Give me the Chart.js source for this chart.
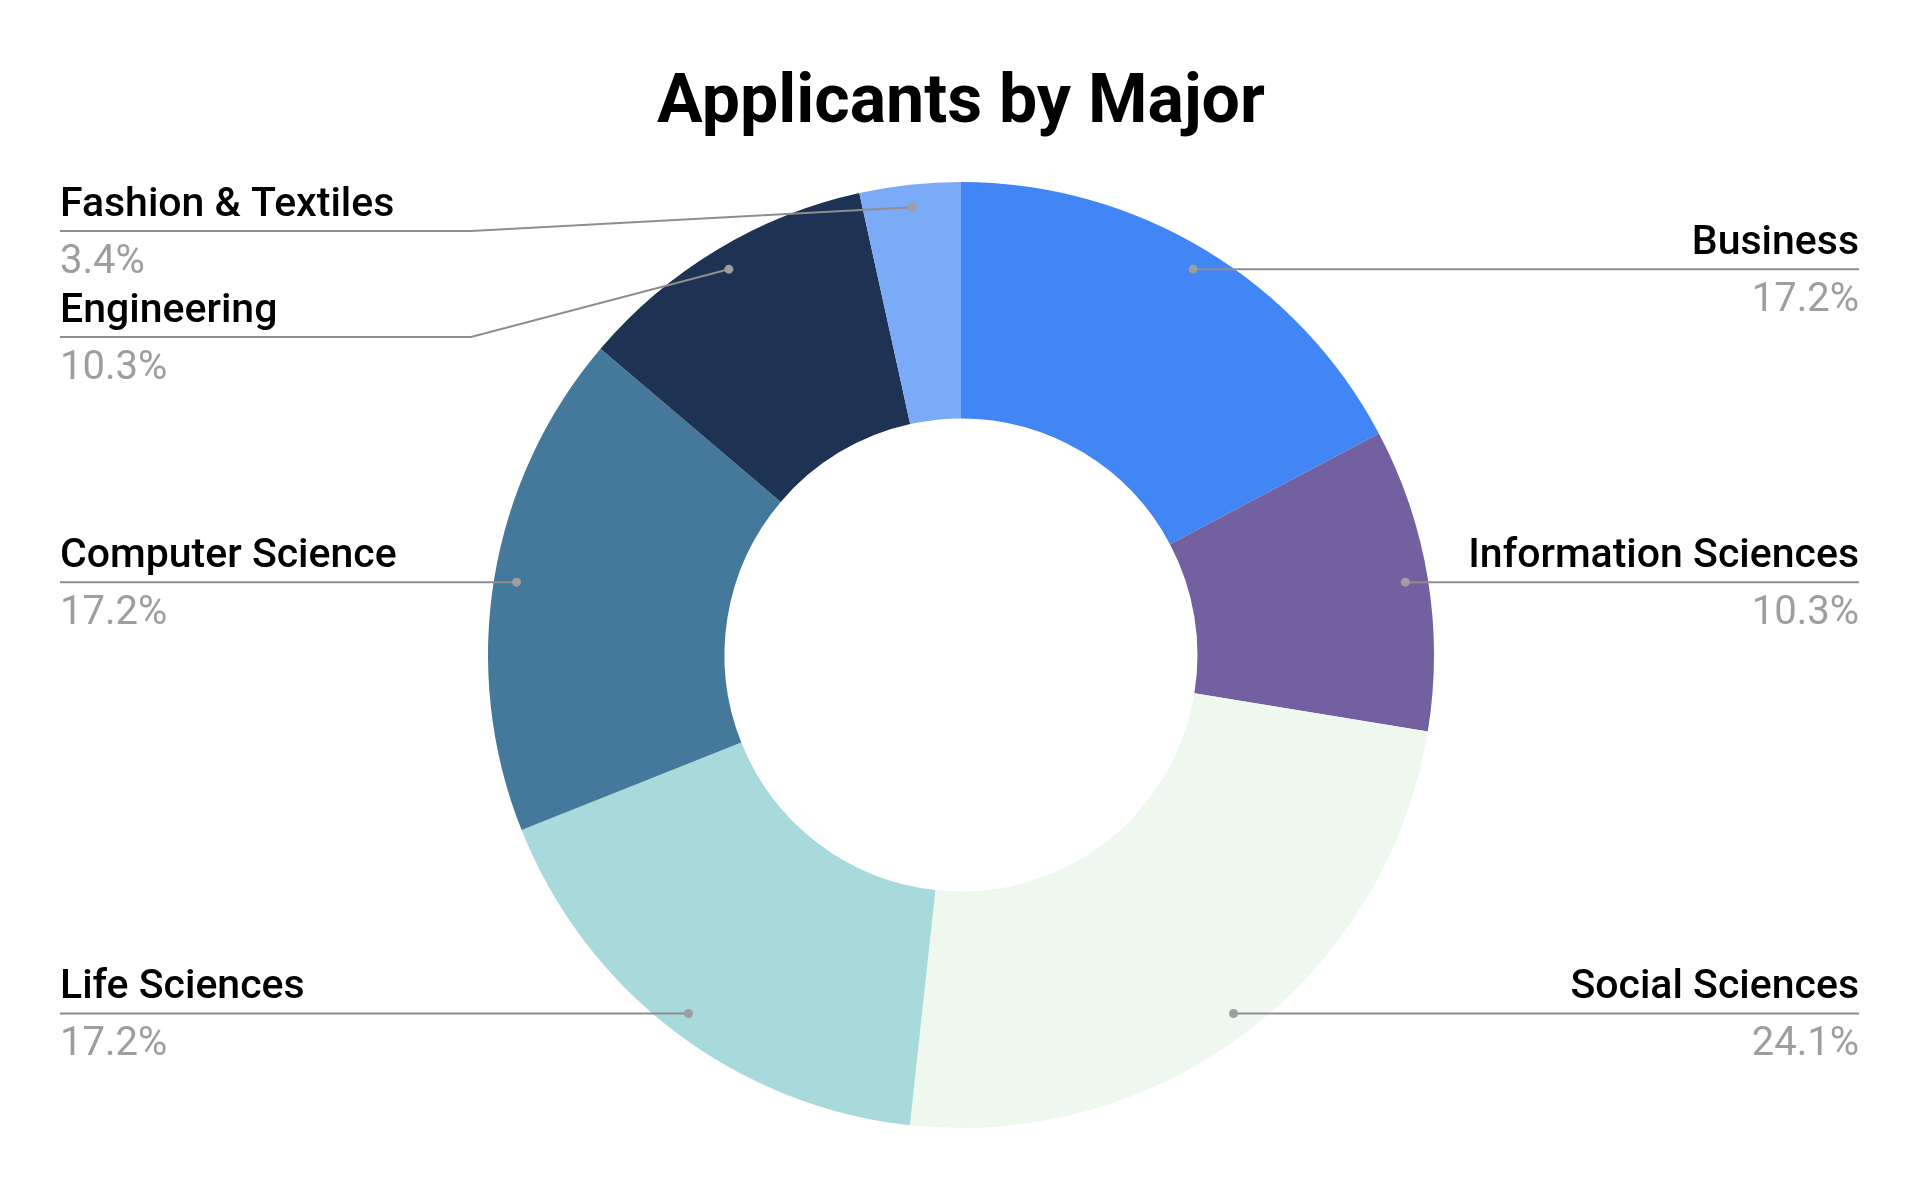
<!DOCTYPE html>
<html>
<head>
<meta charset="utf-8">
<script src="https://cdn.jsdelivr.net/npm/chart.js@4"></script>
<style>
  html, body { margin: 0; padding: 0; background: #ffffff; }
  #wrap { width: 1920px; height: 1190px; position: relative; }
</style>
</head>
<body>
<div id="wrap"><canvas id="c" width="1920" height="1190"></canvas></div>
<script>
const titleText = 'Applicants by Major';
const categories = ['Business', 'Information Sciences', 'Social Sciences', 'Life Sciences', 'Computer Science', 'Engineering', 'Fashion & Textiles'];
const applicants = [5, 3, 7, 5, 5, 3, 1];
const sliceColors = ['#4285f4', '#7360a1', '#eff8ee', '#a8d9db', '#45799b', '#1e3353', '#7baaf7'];

const total = applicants.reduce((a, b) => a + b, 0);
const percentLabels = applicants.map(v => (v / total * 100).toFixed(1) + '%');

const FONT = 'Roboto, "Noto Sans", sans-serif';
const NAME_SIZE = 41;
const PCT_SIZE = 40;

const leaderLabels = {
  id: 'leaderLabels',
  afterDatasetsDraw(chart) {
    const ctx = chart.ctx;
    const meta = chart.getDatasetMeta(0);
    const W = chart.width;
    const leftX = 60, rightX = W - 61;
    const items = [];
    meta.data.forEach((arc, i) => {
      const p = arc.getProps(['x', 'y', 'startAngle', 'endAngle', 'outerRadius', 'innerRadius'], true);
      const mid = (p.startAngle + p.endAngle) / 2;
      const r = p.outerRadius * 0.952;
      const dx = p.x + Math.cos(mid) * r;
      const dy = p.y + Math.sin(mid) * r;
      items.push({ i, dx, dy, cx: p.x, outer: p.outerRadius, right: Math.cos(mid) >= 0 });
    });
    const place = (list) => {
      list.sort((a, b) => a.dy - b.dy);
      let prev = -Infinity;
      list.forEach(it => {
        it.ly = Math.max(it.dy, prev + 106, 231);
        prev = it.ly;
      });
    };
    const leftItems = items.filter(it => !it.right);
    const rightItems = items.filter(it => it.right);
    place(leftItems); place(rightItems);

    ctx.save();
    items.forEach(it => {
      ctx.strokeStyle = '#8e8e8e';
      ctx.lineWidth = 2;
      ctx.beginPath();
      if (it.right) {
        ctx.moveTo(rightX, it.ly);
        if (Math.abs(it.ly - it.dy) > 0.5) {
          ctx.lineTo(it.cx + it.outer + 17, it.ly);
        }
        ctx.lineTo(it.dx, it.dy);
      } else {
        ctx.moveTo(leftX, it.ly);
        if (Math.abs(it.ly - it.dy) > 0.5) {
          ctx.lineTo(it.cx - it.outer - 17, it.ly);
        }
        ctx.lineTo(it.dx, it.dy);
      }
      ctx.stroke();
      ctx.fillStyle = '#9e9e9e';
      ctx.beginPath();
      ctx.arc(it.dx, it.dy, 4.5, 0, Math.PI * 2);
      ctx.fill();

      ctx.textAlign = it.right ? 'right' : 'left';
      ctx.textBaseline = 'alphabetic';
      const tx = it.right ? rightX : leftX;
      ctx.fillStyle = '#000000';
      ctx.font = '500 ' + NAME_SIZE + 'px ' + FONT;
      ctx.fillText(categories[it.i], tx, it.ly - 15);
      ctx.fillStyle = '#9e9e9e';
      ctx.font = '400 ' + PCT_SIZE + 'px ' + FONT;
      ctx.fillText(percentLabels[it.i], tx, it.ly + 42);
    });
    ctx.restore();
  }
};

new Chart(document.getElementById('c'), {
  type: 'doughnut',
  data: {
    labels: categories,
    datasets: [{
      data: applicants,
      backgroundColor: sliceColors,
      borderWidth: 0,
      hoverOffset: 0
    }]
  },
  options: {
    responsive: false,
    animation: false,
    cutout: '50%',
    layout: { padding: { top: 0, bottom: 62, left: 2, right: 0 } },
    plugins: {
      legend: { display: false },
      tooltip: { enabled: false },
      title: {
        display: true,
        text: titleText,
        color: '#000000',
        font: { family: FONT, size: 68, weight: 'bold', lineHeight: 1.2 },
        padding: { top: 64, bottom: 36.4 }
      }
    }
  },
  plugins: [leaderLabels]
});
</script>
</body>
</html>
